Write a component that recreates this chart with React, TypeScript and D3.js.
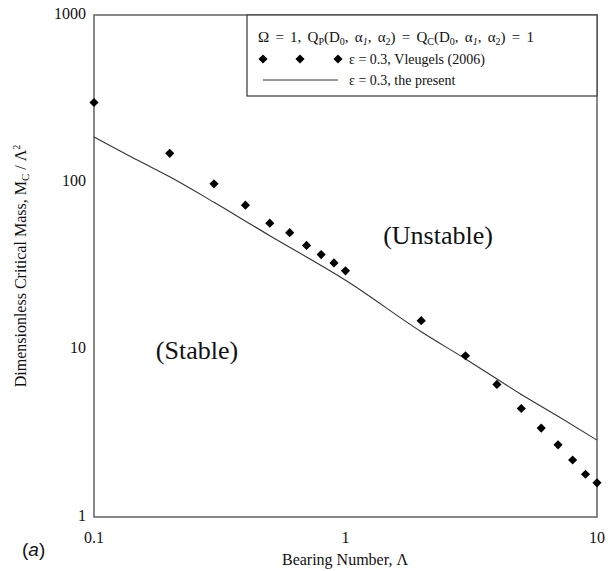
import React from 'react';
import * as d3 from 'd3';

const vleugelsX = [0.1, 0.2, 0.3, 0.4, 0.5, 0.6, 0.7, 0.8, 0.9, 1, 2, 3, 4, 5, 6, 7, 8, 9, 10];
const vleugelsY = [300, 149, 98, 73, 57, 50, 42, 37, 33, 29.6, 14.9, 9.2, 6.2, 4.45, 3.4, 2.7, 2.19, 1.8, 1.6];

const presentX = [0.1, 0.15, 0.2, 0.3, 0.5, 0.7, 1, 2, 3, 5, 7, 10];
const presentY = [187, 135, 108, 76, 48, 35.8, 26, 12.8, 8.8, 5.4, 4.0, 2.88];

const xTicks = [0.1, 1, 10];
const yTicks = [1, 10, 100, 1000];

const serif = '"Liberation Serif", "Times New Roman", serif';

export default function App() {
  const left = 94, right = 597, top = 15, bottom = 517;

  const x = d3.scaleLog().domain([0.1, 10]).range([left, right]);
  const y = d3.scaleLog().domain([1, 1000]).range([bottom, top]);

  const line = d3.line<number>()
    .x((_, i) => x(presentX[i]))
    .y(d => y(d))
    .curve(d3.curveMonotoneX);

  const diamond = d3.symbol().type(d3.symbolSquare).size(42)();
  const axisColor = '#6b6b6b';

  return (
    <svg width={613} height={571} style={{ position: 'absolute', left: 0, top: 0, background: '#fff' }}>
      <g fontFamily={serif} fill="#111">
        {/* frame */}
        <rect x={left} y={top} width={right - left} height={bottom - top}
          fill="none" stroke={axisColor} strokeWidth={1.6} />

        {/* legend box */}
        <rect x={247} y={top} width={right - 247} height={96 - top}
          fill="#fff" stroke="#444" strokeWidth={1.3} />
        <text x={258} y={42} fontSize={15} wordSpacing={2.5}>
          Ω = 1,  Q<tspan fontSize={10} dy={3}>P</tspan>
          <tspan dy={-3}>(D</tspan><tspan fontSize={10} dy={3}>0</tspan>
          <tspan dy={-3}>, α</tspan><tspan fontSize={10} dy={3} fontStyle="italic">1</tspan>
          <tspan dy={-3}>, α</tspan><tspan fontSize={10} dy={3}>2</tspan>
          <tspan dy={-3}>) = Q</tspan><tspan fontSize={10} dy={3}>C</tspan>
          <tspan dy={-3}>(D</tspan><tspan fontSize={10} dy={3}>0</tspan>
          <tspan dy={-3}>, α</tspan><tspan fontSize={10} dy={3} fontStyle="italic">1</tspan>
          <tspan dy={-3}>, α</tspan><tspan fontSize={10} dy={3}>2</tspan>
          <tspan dy={-3}>) = 1</tspan>
        </text>
        {[263, 300, 338].map(cx => (
          <path key={cx} d={diamond} transform={`translate(${cx},59) rotate(45)`} fill="#000" />
        ))}
        <text x={349} y={64} fontSize={14}>ε = 0.3, Vleugels (2006)</text>
        <line x1={263} x2={338} y1={80} y2={80} stroke="#333" strokeWidth={1} />
        <text x={349} y={85} fontSize={14}>ε = 0.3, the present</text>

        {/* data */}
        <path d={line(presentY) ?? ''} fill="none" stroke="#333" strokeWidth={1.1} />
        {vleugelsY.map((v, i) => (
          <path key={i} d={diamond}
            transform={`translate(${x(vleugelsX[i])},${y(v)}) rotate(45)`} fill="#000" />
        ))}

        {/* ticks */}
        {yTicks.map(t => (
          <text key={t} x={86} y={y(t)} fontSize={16} textAnchor="end" dominantBaseline="middle">{t}</text>
        ))}
        {xTicks.map(t => (
          <text key={t} x={x(t)} y={543} fontSize={16} textAnchor="middle">{t}</text>
        ))}

        {/* region labels */}
        <text x={438} y={244} fontSize={26} textAnchor="middle">(Unstable)</text>
        <text x={197} y={359} fontSize={26} textAnchor="middle">(Stable)</text>

        {/* axis titles */}
        <text x={345} y={565} fontSize={16} textAnchor="middle">Bearing Number, Λ</text>
        <text transform="translate(26,266) rotate(-90)" fontSize={16} textAnchor="middle">
          Dimensionless Critical Mass, M<tspan fontSize={11} dy={3}>C</tspan>
          <tspan dy={-3}> / Λ</tspan><tspan fontSize={10} dy={-6}>2</tspan>
        </text>
        <text x={22} y={556} fontSize={19} fontFamily='"Liberation Sans", Arial, sans-serif'>
          (<tspan fontStyle="italic">a</tspan>)
        </text>
      </g>
    </svg>
  );
}
